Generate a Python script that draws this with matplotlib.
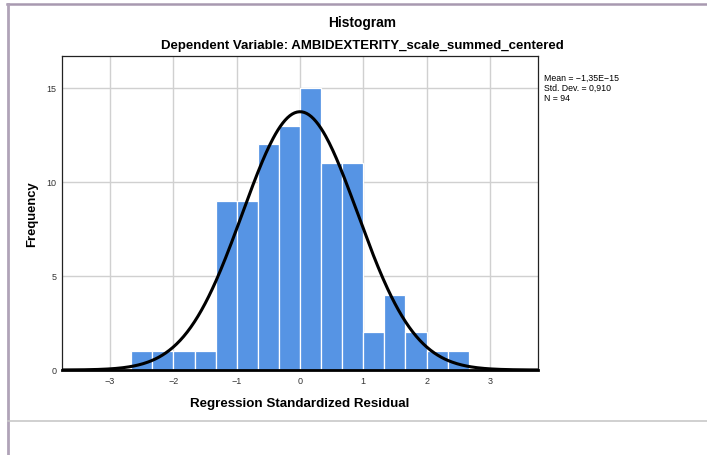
import numpy as np
import matplotlib
matplotlib.use("Agg")
import matplotlib.pyplot as plt
from matplotlib.lines import Line2D

plt.rcParams['font.family'] = ['Liberation Sans', 'DejaVu Sans']

# --- dati ---
bin_edges = np.arange(-8, 9) / 3.0
counts = [1, 1, 1, 1, 9, 9, 12, 13, 15, 11, 11, 2, 4, 2, 1, 1]
mean = -1.35e-15
std = 0.910
n = 94
x_ticks = [-3, -2, -1, 0, 1, 2, 3]
y_ticks = [0, 5, 10, 15]

W, H = 707, 456
fig = plt.figure(figsize=(W / 100, H / 100), dpi=100)

# cornice esterna
fig.add_artist(Line2D([7 / W, 1], [1 - 4.5 / H, 1 - 4.5 / H], color='#a899b0', lw=1.8))
fig.add_artist(Line2D([7.5 / W, 7.5 / W], [0, 1 - 4.5 / H], color='#b0a3b8', lw=2.0))
fig.add_artist(Line2D([8 / W, 1], [1 - 421.5 / H, 1 - 421.5 / H], color='#c8c8c8', lw=1.2))

ax = fig.add_axes([62 / W, 1 - 371 / H, 476 / W, 314 / H])

widths = np.diff(bin_edges)
ax.bar(bin_edges[:-1], counts, width=widths, align='edge', color='#5694e4',
       edgecolor='white', linewidth=0.9, zorder=2)

# curva normale con media e dev. std mostrate
xs = np.linspace(-3.76, 3.76, 400)
ys = n * widths[0] * np.exp(-0.5 * ((xs - mean) / std) ** 2) / (std * np.sqrt(2 * np.pi))
ax.plot(xs, ys, color='black', lw=2.2, zorder=3)

ax.set_xlim(-3.76, 3.76)
ax.set_ylim(0, 16.7)
ax.set_xticks(x_ticks)
ax.set_yticks(y_ticks)
ax.set_xticklabels([str(t).replace('-', '\u2212') for t in x_ticks])
ax.grid(True, color='#d0d0d0', lw=1.0, zorder=0)
ax.set_axisbelow(True)
ax.tick_params(length=0, labelsize=6.5, colors='#333333', pad=4)

for side in ['top', 'right', 'left']:
    ax.spines[side].set_color('#222222')
    ax.spines[side].set_linewidth(0.9)
ax.spines['bottom'].set_color('black')
ax.spines['bottom'].set_linewidth(2.0)

ax.set_xlabel('Regression Standardized Residual', fontsize=9.6, fontweight='bold', labelpad=9)
ax.set_ylabel('Frequency', fontsize=9.4, fontweight='bold', labelpad=6)

fig.text(362 / W, 1 - 23 / H, 'Histogram', ha='center', va='center',
         fontsize=9.9, fontweight='bold')
fig.text(362 / W, 1 - 46.5 / H, 'Dependent Variable: AMBIDEXTERITY_scale_summed_centered',
         ha='center', va='center', fontsize=9.5, fontweight='bold')

fig.text(544 / W, 1 - 74 / H,
         'Mean = \u22121,35E\u221215\nStd. Dev. = 0,910\nN = 94',
         ha='left', va='top', fontsize=6.3, linespacing=1.12)

fig.savefig('out.png', dpi=100)
